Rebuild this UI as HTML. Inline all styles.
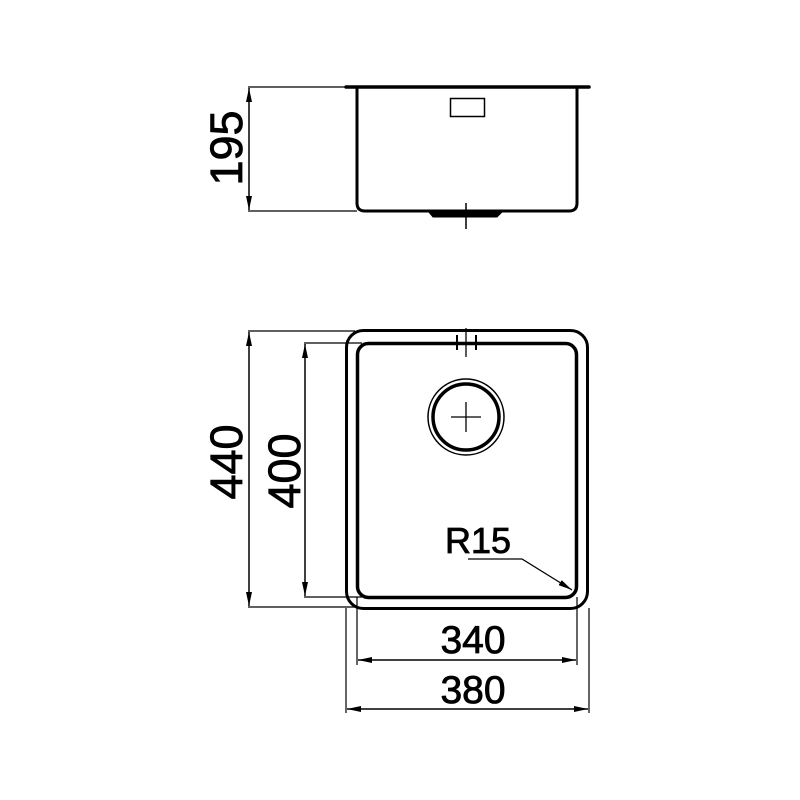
<!DOCTYPE html>
<html><head><meta charset="utf-8"><style>html,body{margin:0;padding:0;background:#fff}svg{display:block}text{font-family:"Liberation Sans",sans-serif;fill:#000}</style></head><body>
<svg width="800" height="800" viewBox="0 0 800 800" xmlns="http://www.w3.org/2000/svg">
<defs>
<marker id="a" viewBox="0 0 14 6" refX="14" refY="3" markerWidth="14" markerHeight="6" markerUnits="userSpaceOnUse" orient="auto-start-reverse" preserveAspectRatio="none"><path d="M0,0 L14,3 L0,6 z" fill="#000"/></marker>
</defs>
<g stroke="#000" fill="none">
<line x1="346" y1="87" x2="589" y2="87" stroke-width="3.5" stroke-linecap="round"/>
<path d="M357,87 V203 Q357,211 365,211 H569 Q577,211 577,203 V87" stroke-width="3"/>
<rect x="450.5" y="98.5" width="34" height="18" stroke-width="1.5"/>
<path d="M428,211 L433,217 H497 L503,211 Z" fill="#000" stroke-width="1"/>
<line x1="466" y1="203" x2="466" y2="229" stroke-width="1.5"/>
<line x1="248" y1="87" x2="357" y2="87" stroke-width="1.2"/>
<line x1="248" y1="211" x2="357" y2="211" stroke-width="1.2"/>
<line x1="249" y1="88" x2="249" y2="210" stroke-width="1.5" marker-start="url(#a)" marker-end="url(#a)"/>
<rect x="346.5" y="330.5" width="241" height="278" rx="17" stroke-width="3"/>
<rect x="357.5" y="343.5" width="219" height="254" rx="11" stroke-width="3.5"/>
<circle cx="466" cy="417" r="38" stroke-width="1.5"/>
<circle cx="466" cy="417" r="33" stroke-width="3.5"/>
<line x1="451" y1="417" x2="481" y2="417" stroke-width="1.3"/>
<line x1="466" y1="402" x2="466" y2="432" stroke-width="1.3"/>
<line x1="457" y1="335" x2="457" y2="350" stroke-width="2"/>
<line x1="476" y1="335" x2="476" y2="350" stroke-width="2"/>
<line x1="466" y1="328" x2="466" y2="357" stroke-width="1.3"/>
<line x1="248" y1="331" x2="355" y2="331" stroke-width="1.2"/>
<line x1="248" y1="607" x2="355" y2="607" stroke-width="1.2"/>
<line x1="249" y1="332" x2="249" y2="606" stroke-width="1.5" marker-start="url(#a)" marker-end="url(#a)"/>
<line x1="304" y1="343" x2="362" y2="343" stroke-width="1.2"/>
<line x1="304" y1="597" x2="362" y2="597" stroke-width="1.2"/>
<line x1="305" y1="344" x2="305" y2="596" stroke-width="1.5" marker-start="url(#a)" marker-end="url(#a)"/>
<line x1="357" y1="597" x2="357" y2="665" stroke-width="1.2"/>
<line x1="577" y1="597" x2="577" y2="665" stroke-width="1.2"/>
<line x1="358" y1="660" x2="576" y2="660" stroke-width="1.5" marker-start="url(#a)" marker-end="url(#a)"/>
<line x1="346" y1="608" x2="346" y2="713" stroke-width="1.2"/>
<line x1="589" y1="608" x2="589" y2="713" stroke-width="1.2"/>
<line x1="347" y1="709" x2="588" y2="709" stroke-width="1.5" marker-start="url(#a)" marker-end="url(#a)"/>
<polyline points="468,559 522,559 572,590" stroke-width="1.3" marker-end="url(#a)"/>
</g>
<g stroke="#000" stroke-width="0.8">
<text x="0" y="0" font-size="45" text-anchor="middle" transform="translate(242,148) rotate(-90)">195</text>
<text x="0" y="0" font-size="45" text-anchor="middle" transform="translate(242,462) rotate(-90)">440</text>
<text x="0" y="0" font-size="45" text-anchor="middle" transform="translate(300,471) rotate(-90)">400</text>
<text x="473" y="653" font-size="39" text-anchor="middle">340</text>
<text x="473" y="703" font-size="39" text-anchor="middle">380</text>
<text x="478" y="553" font-size="36" text-anchor="middle">R15</text>
</g>
</svg>
</body></html>
